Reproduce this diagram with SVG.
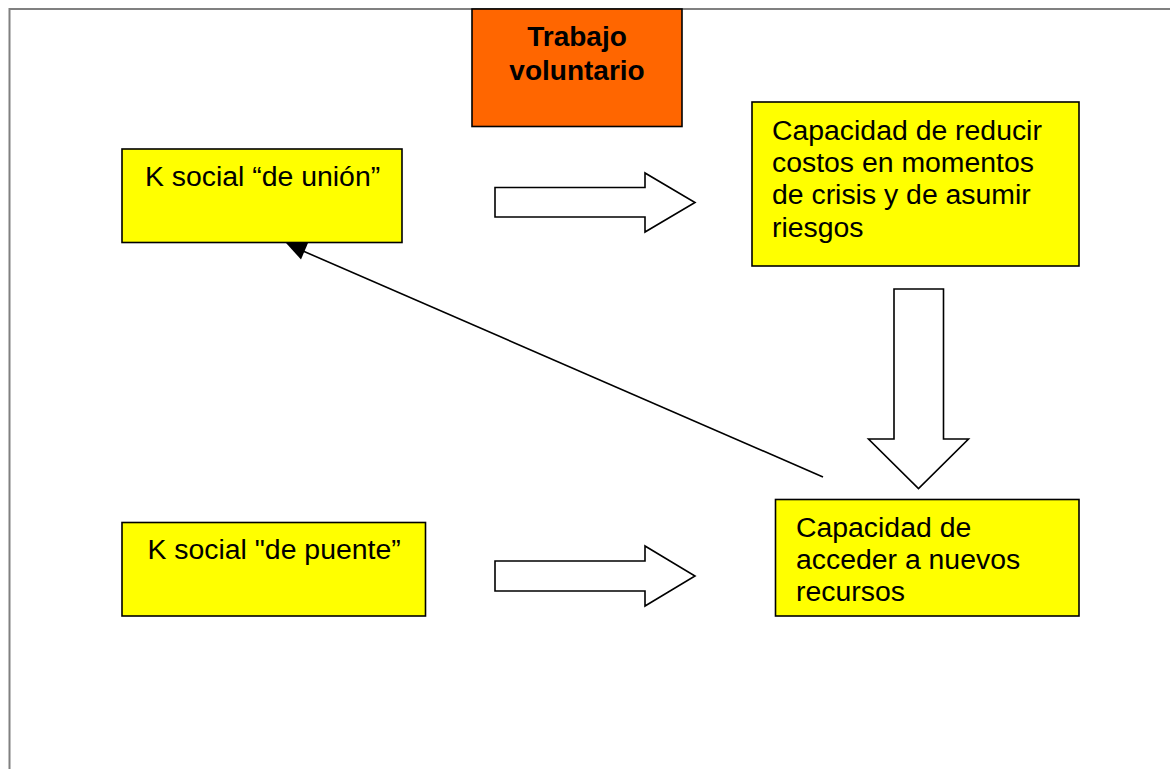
<svg xmlns="http://www.w3.org/2000/svg" width="1170" height="769" viewBox="0 0 1170 769">
  <style>
    .frame { fill: none; stroke: #808080; stroke-width: 2; }
    .box { fill: #ffff00; stroke: #000; stroke-width: 1.6; }
    .box-orange { fill: #ff6600; stroke: #000; stroke-width: 1.6; }
    .label { font-family: "Liberation Sans", Arial, sans-serif; font-size: 28.4px; fill: #000; }
    .title { font-family: "Liberation Sans", Arial, sans-serif; font-size: 28px; font-weight: bold; fill: #000; text-anchor: middle; }
    .block-arrow { fill: #fff; stroke: #000; stroke-width: 1.6; stroke-linejoin: miter; }
    .link { fill: none; stroke: #000; stroke-width: 1.6; }
    .head { fill: #000; stroke: none; }
  </style>
  <rect width="1170" height="769" fill="#fff"/>
  <path class="frame" d="M9.5,769 V9 H1170"/>

  <g id="connectors">
    <!-- hollow block arrows -->
    <polygon class="block-arrow" points="495,187.5 645,187.5 645,173 695,202.5 645,232 645,217 495,217"/>
    <polygon class="block-arrow" points="495,561 645,561 645,546 695,576 645,606 645,591 495,591"/>
    <polygon class="block-arrow" points="894,289 943.5,289 943.5,439 968.5,439 918.5,488.5 868.5,439 894,439"/>
    <!-- feedback line back to bonding capital -->
    <line class="link" x1="823" y1="477" x2="303" y2="251"/>
    <polygon class="head" points="286,243 308,243 301,259.5"/>
  </g>

  <g id="trabajo-voluntario">
    <rect class="box-orange" x="472" y="9" width="210" height="117.5"/>
    <text class="title" x="577" y="45.5">Trabajo</text>
    <text class="title" x="577" y="79.5">voluntario</text>
  </g>

  <g id="k-social-union">
    <rect class="box" x="122" y="149" width="280" height="93.5"/>
    <text class="label" x="145" y="185.5">K social “de unión”</text>
  </g>

  <g id="capacidad-reducir">
    <rect class="box" x="752" y="102" width="327" height="164"/>
    <text class="label" x="772" y="140">Capacidad de reducir</text>
    <text class="label" x="772" y="172.2">costos en momentos</text>
    <text class="label" x="772" y="204.4">de crisis y de asumir</text>
    <text class="label" x="772" y="236.6">riesgos</text>
  </g>

  <g id="k-social-puente">
    <rect class="box" x="122" y="522.5" width="303.5" height="93.5"/>
    <text class="label" x="147.5" y="558.5">K social "de puente”</text>
  </g>

  <g id="capacidad-acceder">
    <rect class="box" x="775.5" y="499.5" width="303.5" height="116.5"/>
    <text class="label" x="796" y="536.5">Capacidad de</text>
    <text class="label" x="796" y="568.8">acceder a nuevos</text>
    <text class="label" x="796" y="601.3">recursos</text>
  </g>
</svg>
